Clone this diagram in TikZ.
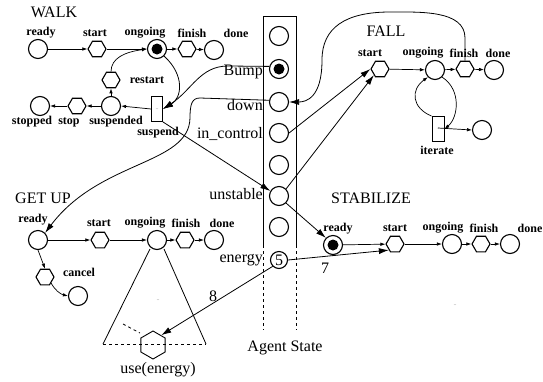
\documentclass[tikz,border=0pt]{standalone}
\usepackage{fontspec}
\setmainfont{Liberation Serif}
\usetikzlibrary{arrows.meta,shapes.geometric}
\begin{document}
\begin{tikzpicture}[x=1pt,y=-1pt,
 st/.style={circle,draw,line width=1.1pt,minimum size=19pt,inner sep=0pt},
 hx/.style={regular polygon,regular polygon sides=6,draw,line width=1.1pt,minimum size=18pt,inner sep=0pt},
 bx/.style={rectangle,draw,line width=0.9pt,minimum width=11pt,minimum height=25pt,inner sep=0pt},
 lb/.style={font=\fontsize{12}{14}\selectfont\bfseries,inner sep=0pt},
 tt/.style={font=\fontsize{16}{18}\selectfont,inner sep=0pt},
 sa/.style={line width=0.7pt,-{Latex[length=5pt,width=3.5pt]}},
 ba/.style={line width=0.8pt,-{Latex[length=10pt,width=6pt]}},
 dots/.style={font=\fontsize{6}{6}\selectfont,text=gray,inner sep=0pt}
 ]
\useasboundingbox (0,0) rectangle (543,381);

% ---------------- WALK
\node[tt] (tW) at (54,12) {WALK};
\node[st] (readyW) at (38,49) {};
\node[hx] (startW) at (97,49) {};
\node[st] (ongW) at (157,49) {};
\fill (ongW) circle (5.5pt);
\node[hx] (finW) at (187,49) {};
\node[st] (doneW) at (214,50) {};
\node[hx] (restart) at (111,80) {};
\node[st] (suspd) at (111,106) {};
\node[hx] (stopH) at (77,106) {};
\node[st] (stopped) at (40,106) {};
\node[bx] (suspend) at (157,109) {};
\node[dots] at (157,109) {..};
\node[lb] at (41,33) {ready};
\node[lb] at (95,33) {start};
\node[lb] at (145,33) {ongoing};
\node[lb] at (192,33) {finish};
\node[lb] at (236,33) {done};
\node[lb] at (147,80) {restart};
\node[lb] at (116,122) {suspended};
\node[lb] at (69,122) {stop};
\node[lb] at (32,122) {stopped};
\node[lb] at (158,133) {suspend};

% ---------------- Agent state
\draw[line width=0.8pt] (263,245) -- (263,16) -- (296,16) -- (296,245);
\draw[line width=0.8pt,dashed] (263,245) -- (263,330) (296,245) -- (296,330);
\node[st] (a1) at (279,36) {};
\node[st] (bump) at (279,69) {};
\fill (bump) circle (5.5pt);
\node[st] (down) at (279,102) {};
\node[st] (inctl) at (279,133) {};
\node[st] (a5) at (279,165) {};
\node[st] (unstable) at (279,196) {};
\node[st] (a7) at (279,227) {};
\node[st,minimum size=17pt,font=\fontsize{16}{18}\selectfont] (energy) at (279,260) {5};
\node[tt,anchor=east] at (263,72) {Bump};
\node[tt,anchor=east] at (263,105) {down};
\node[tt,anchor=east] at (263,134) {in\_control};
\node[tt,anchor=east] at (263,194) {unstable};
\node[tt,anchor=east] at (263,260) {energy};
\node[tt] at (285,348) {Agent State};

% ---------------- FALL
\node[tt] (tF) at (386,31) {FALL};
\node[hx] (startF) at (380,69) {};
\node[st] (ongF) at (435,70) {};
\node[hx] (finF) at (465,69) {};
\node[st] (doneF) at (494,70) {};
\node[bx,minimum width=12pt] (iterate) at (438,129) {};
\fill[gray] (438,128) circle (0.5pt);
\node[st] (iterC) at (482,130) {};
\node[lb] at (370,53) {start};
\node[lb] at (423,53) {ongoing};
\node[lb] at (464,53) {finish};
\node[lb] at (498,53) {done};
\node[lb] at (437,150) {iterate};

% ---------------- GET UP
\node[tt] (tG) at (43,198) {GET UP};
\node[st] (readyG) at (38,240) {};
\node[hx] (startG) at (100,240) {};
\node[st] (ongG) at (157,240) {};
\node[hx] (finG) at (185,240) {};
\node[st] (doneG) at (214,240) {};
\node[hx] (cancel) at (45,277) {};
\node[st] (cancelC) at (78,296) {};
\node[lb] at (33,220) {ready};
\node[lb] at (99,223) {start};
\node[lb] at (145,223) {ongoing};
\node[lb] at (186,223) {finish};
\node[lb] at (222,223) {done};
\node[lb] at (79,272) {cancel};
\node[regular polygon,regular polygon sides=6,shape border rotate=90,draw,line width=0.9pt,minimum size=28pt,inner sep=0pt] (use) at (153,345) {};
\draw[line width=0.8pt] (150,249) -- (103,344);
\draw[line width=0.8pt] (164,249) -- (206,344);
\draw[line width=0.8pt,dashed] (103,344) -- (206,344);
\draw[line width=0.8pt,dashed] (123,324) -- (140,333);
\node[dots] at (158,300) {..};
\node[tt] at (158,370) {use(energy)};

% ---------------- STABILIZE
\node[tt] (tS) at (371,198) {STABILIZE};
\node[st] (readyS) at (333,245) {};
\fill (readyS) circle (5.5pt);
\node[hx] (startS) at (395,244) {};
\node[st] (ongS) at (452,244) {};
\node[hx] (finS) at (481,244) {};
\node[st] (doneS) at (510,244) {};
\node[lb] at (338,229) {ready};
\node[lb] at (395,228) {start};
\node[lb] at (443,228) {ongoing};
\node[lb] at (484,228) {finish};
\node[lb] at (530,228) {done};
\node[dots] at (455,305) {..};
\node[tt] at (325,268) {7};
\node[tt] at (213,296) {8};

% ---------------- connectors
\draw[sa] (readyW) -- (startW);
\draw[sa] (startW) -- (ongW);
\draw[sa] (ongW) -- (finW);
\draw[sa] (finW) -- (doneW);
\draw[sa] (suspd) -- (restart);
\draw[sa] (restart.north) .. controls (111,58) and (125,52) .. (ongW.west);
\draw[sa] (suspend.west) -- (suspd.east);
\draw[sa] (suspd) -- (stopH);
\draw[sa] (stopH) -- (stopped);
\draw[ba] (ongW.south east) .. controls (185,75) and (182,98) .. (suspend.east);
\draw[ba] (bump.165) -- (228,66) .. controls (200,66) and (192,90) .. (suspend.east);
\draw[ba] (suspend.south east) -- (unstable.150);
\draw[ba] (down.170) -- (200,98) .. controls (192,98) and (190,104) .. (190,118) .. controls (189,165) and (100,160) .. (readyG.north east);

\draw[ba] (inctl.east) -- (startF.west);
\draw[ba] (unstable.north east) -- (startF.south west);
\draw[sa] (startF) -- (ongF);
\draw[sa] (ongF) -- (finF);
\draw[sa] (finF) -- (doneF);
\draw[ba] (finF.north) -- (465,38) .. controls (465,10) and (420,12) .. (390,12) .. controls (345,12) and (322,28) .. (322,60) .. controls (322,98) and (306,102) .. (down.east);
\draw[sa] (ongF.south east) .. controls (462,90) and (458,118) .. (iterate.east);
\draw[sa] (iterate.north west) .. controls (412,108) and (410,90) .. (ongF.south west);
\draw[sa] (438,128) -- (iterC.west);

\draw[sa] (readyG) -- (startG);
\draw[sa] (startG) -- (ongG);
\draw[sa] (ongG) -- (finG);
\draw[sa] (finG) -- (doneG);
\draw[sa] (readyG.south) -- (cancel.north);
\draw[sa] (cancel.south east) .. controls (55,290) and (60,294) .. (cancelC.west);

\draw[ba] (unstable.south east) -- (readyS.north west);
\draw[sa] (readyS) -- (startS);
\draw[ba] (energy.east) -- (startS.south west);
\draw[sa] (startS) -- (ongS);
\draw[sa] (ongS) -- (finS);
\draw[sa] (finS) -- (doneS);
\draw[ba] (energy.south west) -- (use.50);
\end{tikzpicture}
\end{document}
